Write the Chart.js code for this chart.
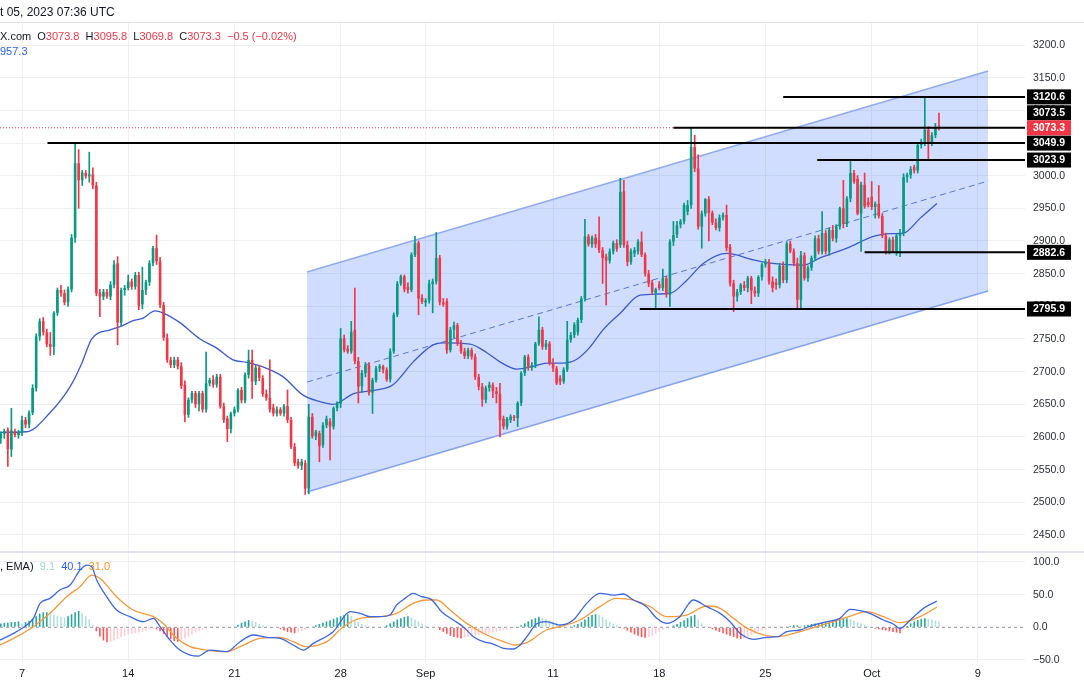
<!DOCTYPE html>
<html>
<head>
<meta charset="utf-8">
<script src="https://cdn.jsdelivr.net/npm/chart.js@4.4.0/dist/chart.umd.min.js"></script>
<style>
  html, body { margin: 0; padding: 0; background: #fff; }
  #wrap { position: relative; width: 1084px; height: 682px; overflow: hidden; font-family: 'Liberation Sans', Arial, sans-serif; }
  #c { position: absolute; left: 0; top: 0; }
  .txt { position: absolute; white-space: pre; font-size: 11px; line-height: 14px; color: #131722; }
  .r { color: #f23645; }
  .hline { position: absolute; left: 0; top: 22px; width: 1084px; height: 1px; background: #e0e3eb; }
</style>
</head>
<body>
<div id="wrap">
  <canvas id="c" width="1084" height="682"></canvas>
  <div class="hline"></div>
  <div class="txt" style="left:0;top:5px;font-size:12px">t 05, 2023 07:36 UTC</div>
  <div class="txt" style="left:0;top:29px">X.com  O<span class="r">3073.8</span>  H<span class="r">3095.8</span>  L<span class="r">3069.8</span>  C<span class="r">3073.3</span>  <span class="r">−0.5 (−0.02%)</span></div>
  <div class="txt" style="left:0;top:44px;color:#2962ff">957.3</div>
  <div class="txt" style="left:0;top:559px">, EMA)  <span style="color:#9fd6d0">9.1</span>  <span style="color:#2962ff">40.1</span>  <span style="color:#f7931e">31.0</span></div>
</div>
<script>
// 4H candles, index 0 = Aug 7 00:00, first bar = index -6
const FIRST_BAR = -6;
const candles = [
  [2598,2608,2590,2605],[2605,2612,2598,2609],[2611,2614,2555,2581],[2581,2644,2570,2610],[2608,2612,2600,2603],[2603,2610,2598,2607],
  [2607,2632,2602,2626],[2626,2630,2614,2619],[2619,2640,2614,2637],[2637,2680,2634,2675],[2675,2758,2670,2754],[2754,2781,2748,2777],
  [2777,2783,2756,2760],[2760,2765,2738,2742],[2742,2760,2725,2738],[2738,2792,2726,2790],[2790,2828,2786,2825],[2825,2832,2815,2820],
  [2820,2825,2802,2806],[2806,2830,2800,2826],[2826,2910,2822,2905],[2905,3049.9,2898,3019],[3019,3040,2950,2993],[2993,3008,2985,3005],
  [3004,3008,2996,2999],[2999,3036,2990,3002],[3002,3012,2980,2985],[2985,2990,2816,2820],[2821,2826,2784,2815],[2815,2826,2810,2822],
  [2822,2826,2812,2815],[2815,2838,2810,2833],[2833,2870,2828,2864],[2866,2876,2741,2775],[2775,2828,2770,2825],[2825,2832,2817,2828],
  [2828,2848,2825,2838],[2838,2842,2826,2830],[2830,2852,2826,2848],[2848,2852,2795,2800],[2803,2860,2796,2825],[2825,2840,2818,2837],
  [2837,2870,2832,2866],[2866,2892,2862,2889],[2889,2909,2864,2869],[2869,2875,2798,2802],[2802,2806,2748,2752],[2752,2758,2714,2718],
  [2718,2722,2706,2710],[2710,2722,2706,2718],[2718,2722,2704,2708],[2708,2714,2674,2678],[2680,2686,2623,2634],[2634,2660,2630,2657],
  [2657,2670,2652,2667],[2667,2670,2645,2650],[2650,2670,2640,2667],[2667,2670,2638,2642],[2642,2730,2638,2682],[2682,2690,2678,2687],
  [2688,2694,2676,2680],[2680,2696,2676,2692],[2692,2696,2644,2647],[2647,2652,2622,2626],[2628,2632,2593,2612],[2612,2638,2606,2636],
  [2636,2646,2632,2642],[2642,2674,2638,2672],[2672,2676,2652,2656],[2656,2698,2652,2695],[2695,2733,2690,2718],[2718,2733,2659,2685],
  [2685,2710,2680,2706],[2706,2710,2686,2690],[2690,2694,2662,2666],[2666,2672,2656,2660],[2660,2718,2638,2642],[2645,2650,2632,2636],
  [2636,2646,2632,2642],[2642,2645,2633,2636],[2636,2650,2632,2647],[2647,2672,2622,2626],[2626,2630,2582,2585],[2585,2590,2556,2560],
  [2562,2566,2552,2556],[2556,2566,2550,2562],[2560,2564,2512,2521],
  [2521,2650,2513,2631],[2631,2636,2598,2601],[2601,2610,2596,2608],[2606,2609,2562,2586],[2588,2622,2584,2618],[2618,2632,2614,2628],
  [2624,2628,2565,2616],[2616,2646,2612,2644],[2644,2654,2640,2651],[2651,2766,2645,2751],[2751,2756,2730,2733],[2735,2740,2728,2731],
  [2731,2777,2728,2761],[2764,2828,2712,2716],[2716,2722,2652,2677],[2678,2702,2668,2698],[2698,2714,2692,2710],[2710,2714,2664,2668],
  [2668,2690,2636,2687],[2687,2708,2684,2705],[2705,2711,2700,2708],[2708,2710,2698,2703],[2703,2706,2685,2688],[2688,2735,2684,2731],
  [2731,2790,2728,2787],[2787,2838,2784,2835],[2835,2848,2832,2846],[2846,2848,2822,2826],[2830,2836,2820,2825],[2825,2882,2822,2879],
  [2879,2907,2876,2897],[2897,2900,2787,2812],[2813,2818,2804,2807],[2806,2812,2800,2809],[2809,2840,2805,2835],[2834,2842,2790,2838],
  [2838,2913,2834,2874],[2874,2878,2802,2806],[2806,2812,2800,2803],[2808,2812,2728,2733],[2733,2768,2730,2764],[2764,2776,2752,2771],
  [2771,2774,2740,2743],[2743,2748,2728,2731],[2731,2736,2720,2724],[2724,2736,2720,2733],[2733,2736,2719,2723],[2723,2727,2688,2692],
  [2692,2696,2672,2677],[2677,2682,2647,2657],[2657,2678,2652,2675],[2675,2684,2670,2680],[2680,2683,2660,2670],[2670,2676,2652,2666],
  [2666,2682,2600,2626],[2628,2632,2612,2616],[2616,2630,2612,2628],[2626,2634,2622,2631],[2631,2633,2625,2629],[2629,2654,2616,2652],
  [2652,2700,2648,2698],[2698,2725,2694,2723],[2723,2726,2702,2706],[2706,2714,2702,2710],[2710,2745,2706,2743],[2743,2784,2740,2764],
  [2764,2768,2734,2738],[2738,2748,2734,2743],[2743,2746,2710,2713],[2713,2720,2700,2705],[2705,2708,2680,2682],[2690,2694,2680,2685],
  [2685,2706,2682,2703],[2703,2777,2700,2749],[2749,2760,2745,2756],[2756,2775,2752,2772],[2760,2782,2756,2779],[2779,2815,2775,2812],
  [2812,2933,2808,2907],[2907,2910,2892,2895],[2895,2908,2890,2905],[2905,2910,2890,2895],[2901,2937,2882,2886],[2886,2890,2835,2874],
  [2876,2880,2802,2870],[2870,2888,2866,2884],[2884,2900,2880,2897],[2897,2902,2884,2888],[2894,2996,2890,2975],
  [2976,2993,2890,2894],[2894,2900,2862,2868],[2868,2888,2864,2884],[2881,2890,2876,2886],[2884,2902,2880,2899],[2899,2914,2876,2879],
  [2879,2882,2846,2850],[2850,2855,2830,2835],[2836,2840,2818,2822],[2820,2828,2795.9,2826],[2834,2838,2825,2828],[2828,2857,2824,2843],
  [2843,2846,2814,2818],[2818,2902,2800,2899],[2899,2930,2893,2909],[2910,2930,2905,2924],[2925,2933,2920,2930],[2930,2958,2926,2955],
  [2945,2962,2940,2955],[2955,3073.5,2950,3044],[3044,3062,3006,3011],[3011,3032,2918,2922],[2922,2946,2889,2942],[2942,2965,2938,2964],
  [2964,2968,2900,2943],[2943,2946,2925,2928],[2928,2934,2917,2920],[2920,2940,2915,2936],[2936,2943,2932,2940],[2940,2955,2885,2889],
  [2891,2895,2831,2835],[2835,2840,2792,2815],[2815,2826,2808,2822],[2822,2835,2818,2833],[2833,2838,2824,2828],[2828,2846,2822,2843],
  [2843,2846,2804,2824],[2824,2830,2815,2820],[2820,2847,2815,2845],[2845,2866,2840,2864],[2864,2872,2860,2868],[2868,2872,2834,2838],
  [2838,2845,2822,2828],[2836,2842,2826,2833],[2833,2866,2828,2862],[2862,2868,2836,2840],[2840,2899,2836,2896],[2896,2900,2882,2884],
  [2884,2888,2862,2866],[2866,2874,2797,2810],[2810,2884,2797,2878],[2878,2882,2840,2843],[2843,2862,2838,2859],[2859,2877,2855,2874],
  [2874,2908,2870,2904],[2904,2909,2880,2884],[2884,2945,2880,2912],[2912,2916,2880,2884],[2884,2920,2878,2917],[2917,2924,2900,2904],
  [2904,2925,2898,2922],[2922,2952,2918,2950],[2950,2993,2920,2926],[2926,2968,2922,2965],[2965,3023.9,2960,3004],[3004,3008,2988,2991],
  [2995,3000,2940,2942],[2942,2990,2884,2986],[2986,3004,2950,2953],[2960,2966,2952,2955],[2968,2991,2948,2952],[2952,2960,2935,2957],
  [2957,2985,2935,2938],[2938,2942,2905,2908],[2908,2912,2880,2884],[2884,2905,2880,2902],[2902,2906,2882.6,2884],[2884,2910,2878,2908],
  [2908,2918,2876,2912],[2912,3003,2908,2998],[2998,3004,2990,3001],[3001,3014,2996,3010],[3013,3016,3004,3008],[3008,3050,3004,3047],
  [3047,3056,3042,3052],[3052,3120.6,3046,3070],[3070,3075,3024,3050],[3050,3066,3046,3062],[3062,3080,3058,3074],[3073.8,3095.8,3069.8,3073.3]
];

const xTicks = [0, 30, 60, 90, 114, 150, 180, 210, 240, 270];
const xTickText = ['7', '14', '21', '28', 'Sep', '11', '18', '25', 'Oct', '9'];

// EMA: [bar index, price]
const emaPts = [
  [-6.2,2607],[1.3,2608],[7.9,2637],[13.6,2677],[16.9,2713],[19.7,2750],[24.9,2764],[27.7,2769],[31.4,2778],
  [34.2,2782],[37.6,2793],[39.8,2790],[44.6,2775],[50.3,2750],[55,2736],[59.6,2718],[63.5,2714],[69.1,2705],
  [73.8,2692],[79.4,2664],[84.2,2654],[87.9,2650],[89.3,2652],[93.5,2666],[100.2,2672],[104.8,2680],[110.5,2715],
  [116.1,2741],[118.9,2744],[126.6,2742],[131.3,2729],[135,2715],[139.7,2704],[144.4,2708],[148.2,2713],[152.8,2713],
  [156.7,2719],[160.5,2738],[164.1,2764],[168.9,2789],[174.6,2817],[183.1,2820],[187.8,2840],[192.5,2866],[199.1,2881],
  [206.6,2871],[211.3,2866],[220.7,2863],[225.4,2874],[233,2889],[240.5,2907],[244.3,2911],[249,2912],[253.7,2935],[258.4,2957.3]
];

// MACD pane
const macdPts = [
  [-6.2,-19.5],[-2.4,-9.3],[1.3,3.5],[3.2,13.7],[5.1,36.7],[7.9,44.3],[10.7,57.1],[13.6,64.7],[16.4,87.7],[18.3,95.3],
  [19.7,92.8],[21.1,72.4],[23.9,46.9],[26.7,26.5],[30.5,16.3],[34.3,8.6],[37.1,13.7],[39,1],[41.8,-19.5],[44.6,-34.8],
  [47.5,-42.4],[49.8,-44],[53.1,-34.8],[57.8,-37.3],[61.6,-22],[65.3,-11.8],[69.1,-15.4],[72.9,-16.9],[76.6,-27.1],[79.5,-34.8],
  [82.3,-24.6],[87.9,-6.7],[92.7,23.9],[95.5,21.4],[98.3,16.3],[101.1,16.3],[103.9,18.8],[105.8,34.1],[108.2,44.3],[110.5,52],
  [112.9,46.9],[115.6,42.8],[118.5,23.9],[121.8,11.2],[124.6,1],[127.5,-14.3],[130.3,-22],[133.1,-25.6],[136,-32.2],[138.8,-33.2],
  [140.7,-27.1],[142.6,-14.3],[145.3,5],[148.1,8.6],[151.9,3.5],[155.7,11.2],[159.5,36.7],[163.2,52],[167,49.4],[169.8,51],
  [172.7,41.8],[176.4,31.6],[179.3,13.7],[182.1,6],[185.8,16.3],[189.6,41.8],[193.4,31.6],[197.2,21.4],[200,8.6],[202.8,-9.2],
  [206.6,-18.4],[210.4,-15.3],[213.6,-14.3],[216,-6.7],[219.8,-4.1],[223.5,3.5],[227.3,8.6],[231,13.7],[233.9,27.5],[236.7,25.5],
  [239.5,21.4],[243.3,11.2],[246.1,5],[248,-1.6],[250.9,11.2],[254.6,29],[258.4,40.1]
];
const signalPts = [
  [-6.2,-27.1],[-2.4,-16.9],[3.2,1],[7.9,21.4],[12.6,46.9],[16.4,62.2],[19.7,80],[22,75],[26.7,46.9],[31.4,26.5],
  [37.1,16.3],[39.9,6],[43.7,-16.9],[47.5,-29.7],[52.2,-34.8],[57.8,-37.3],[61.6,-29.7],[67.2,-16.9],[72.9,-15.4],[76.6,-22],
  [80.4,-29.7],[86.1,-22],[90.8,1],[95.5,13.7],[101.1,16.3],[105.8,21.4],[110.5,36.7],[114.3,41.8],[117.1,41.8],[120.9,26.5],
  [125.6,6],[131.3,-11.8],[136,-22],[139.3,-27.1],[142.6,-23.5],[148.1,-4.1],[151.9,1],[157.6,11.2],[163.2,31.6],[167.8,44.3],
  [172.7,41.8],[177.4,31.6],[182.1,16.3],[187.7,18.8],[193.4,32.6],[197.2,29],[201,13.7],[204.9,-1.6],[209.6,-11.8],[213.6,-14.3],
  [218.8,-8.2],[224.4,1],[229.2,8.6],[234.8,18.8],[238.6,23.9],[243.3,16.3],[248,7.1],[253.6,16.3],[258.4,31]
];
const macdHist = [
  6,7,7,8,8,9,
  6,8,10,13,17,21,23,23,22,19,17,16,15,17,20,23,25,22,17,12,4,
  -6,-14,-20,-23,-22,
  -20,-18,-15,-13,-11,-10,-9,-8,-7,-5,-3,
  -2,-3,-6,-10,-14,-18,-21,-22,-20,
  -17,-14,-11,-8,-6,-4,-2,
  -1,0,1,1,0,-1,0,1,
  4,7,9,11,10,8,5,3,
  1,0,-1,-1,
  -3,-5,-7,-8,-9,-8,-6,-4,
  -2,1,3,5,7,9,11,13,
  15,17,19,20,17,12,8,
  5,3,2,1,0,0,1,3,
  6,9,12,14,16,17,15,12,9,
  6,3,1,0,-1,
  -4,-7,-10,-13,-15,-16,-17,-16,-15,
  -14,-13,-12,-11,-10,-9,-8,-7,-6,-5,-4,-3,-2,
  0,3,6,9,12,14,16,15,13,
  11,9,7,5,3,1,
  1,3,5,8,12,16,19,20,19,16,12,8,5,
  3,1,-2,-5,-8,-11,-13,-15,-16,-15,-13,-10,-7,-4,
  -1,1,3,5,8,11,14,17,19,
  12,6,2,-1,-3,-5,-7,
  -9,-11,-13,-15,-17,-18,-17,-15,
  -12,-10,-7,-5,-3,-1,
  0,0,1,1,
  1,2,3,3,2,3,4,5,6,6,7,8,9,10,11,12,13,14,
  12,10,8,6,4,2,1,
  -2,-3,-4,-5,-6,-7,-8,-9,
  -3,2,6,9,11,13,14,13,12,10,9
];

// drawn levels and channel
const levelPrices = [3120.6, 3073.5, 3049.9, 3023.9, 2882.6, 2795.9];
const levelFrom = [215, 184, 7.2, 224.6, 238, 174.5];
const channelUpper = [[80.5, 2852.5], [272.9, 3160.2]];
const channelLower = [[80.5, 2515.8], [272.9, 2823.4]];
const channelMid = [[80.5, 2684], [272.9, 2991.8]];
const lastClose = 3073.3;

const X_MIN = -6.215, X_MAX = 283.3;
const UP = '#089981', DOWN = '#f23645';
const GRID = '#eef0f4';

Chart.defaults.font.family = "'Liberation Sans', Arial, sans-serif";
Chart.defaults.color = '#131722';

const xy = pts => pts.map(p => ({ x: p[0], y: p[1] }));
const candleColors = candles.map(c => (c[3] >= c[0] ? UP : DOWN));
const histColors = macdHist.map((v, k) => {
  const prev = k > 0 ? macdHist[k - 1] : v;
  if (v >= 0) return v >= prev ? '#26a69a' : '#b2dfdb';
  return v < prev ? '#ff5252' : '#ffcdd2';
});

const datasets = [
  { type: 'line', data: xy(channelUpper), yAxisID: 'y', borderColor: '#93abee', borderWidth: 1.5,
    backgroundColor: 'rgba(41,98,255,0.22)', fill: '+1', pointRadius: 0, order: 20 },
  { type: 'line', data: xy(channelLower), yAxisID: 'y', borderColor: '#93abee', borderWidth: 1.5,
    fill: false, pointRadius: 0, order: 20 },
  { type: 'line', data: xy(channelMid), yAxisID: 'y', borderColor: '#5a76cc', borderWidth: 1,
    borderDash: [6, 4], fill: false, pointRadius: 0, order: 19 },
  { type: 'line', data: xy(emaPts), yAxisID: 'y', borderColor: '#3a5bd0', borderWidth: 1.3,
    cubicInterpolationMode: 'monotone', pointRadius: 0, fill: false, order: 15 },
  { type: 'bar', data: candles.map((c, k) => ({ x: FIRST_BAR + k, y: [c[2], c[1]] })), yAxisID: 'y',
    backgroundColor: candleColors, barThickness: 1, grouped: false, order: 14 },
  { type: 'bar', data: candles.map((c, k) => ({ x: FIRST_BAR + k, y: [c[0], c[3]] })), yAxisID: 'y',
    backgroundColor: candleColors, barPercentage: 0.74, categoryPercentage: 1, minBarLength: 1, grouped: false, order: 13 },
  { type: 'line', data: [{ x: X_MIN, y: lastClose }, { x: X_MAX, y: lastClose }], yAxisID: 'y',
    borderColor: '#f23645', borderWidth: 1, borderDash: [1, 2], pointRadius: 0, fill: false, order: 12 },
  { type: 'bar', data: macdHist.map((v, k) => ({ x: FIRST_BAR + k, y: v })), yAxisID: 'y2',
    backgroundColor: histColors, barPercentage: 0.45, categoryPercentage: 1, grouped: false, order: 11 },
  { type: 'line', data: xy(macdPts), yAxisID: 'y2', borderColor: '#3d66e0', borderWidth: 1.3,
    cubicInterpolationMode: 'monotone', pointRadius: 0, fill: false, order: 9 },
  { type: 'line', data: xy(signalPts), yAxisID: 'y2', borderColor: '#f59a3b', borderWidth: 1.3,
    cubicInterpolationMode: 'monotone', pointRadius: 0, fill: false, order: 10 }
];
levelPrices.forEach((p, k) => {
  datasets.push({ type: 'line', data: [{ x: levelFrom[k], y: p }, { x: X_MAX, y: p }], yAxisID: 'y',
    borderColor: '#000', borderWidth: 2, pointRadius: 0, fill: false, order: 1 });
});

const overlay = {
  id: 'overlay',
  beforeDatasetsDraw(chart) {
    const { ctx, chartArea } = chart;
    const y0 = chart.scales.y2.getPixelForValue(0);
    ctx.save();
    ctx.strokeStyle = '#9598a1';
    ctx.lineWidth = 1;
    ctx.setLineDash([3, 3]);
    ctx.beginPath();
    ctx.moveTo(chartArea.left, y0);
    ctx.lineTo(chartArea.right, y0);
    ctx.stroke();
    ctx.restore();
  },
  afterDraw(chart) {
    const { ctx, chartArea } = chart;
    const y = chart.scales.y;
    // pane separator
    ctx.save();
    ctx.fillStyle = '#e0e3eb';
    ctx.fillRect(0, Math.round(y.bottom) - 1, chart.width, 2);
    // price tags on the axis
    const yCur = y.getPixelForValue(lastClose);
    const tags = levelPrices.map(p => ({ p, bg: '#000', py: y.getPixelForValue(p) }));
    tags.forEach(t => {
      if (Math.abs(t.py - yCur) < 15) t.py = t.p > lastClose ? yCur - 15 : yCur + 15;
    });
    tags.push({ p: lastClose, bg: '#f23645', py: yCur });
    ctx.font = "bold 10.5px 'Liberation Sans', Arial, sans-serif";
    ctx.textAlign = 'center';
    ctx.textBaseline = 'middle';
    tags.forEach(t => {
      ctx.fillStyle = t.bg;
      ctx.fillRect(chartArea.right + 2, t.py - 7.5, 44, 15);
      ctx.fillStyle = '#fff';
      ctx.fillText(t.p.toFixed(1), chartArea.right + 24, t.py + 0.5);
    });
    ctx.restore();
  }
};

// ticks every `step` inside the axis range
const stepTicks = step => s => {
  const out = [];
  for (let v = Math.ceil(s.min / step) * step; v <= s.max; v += step) out.push({ value: v });
  s.ticks = out;
};

new Chart(document.getElementById('c'), {
  type: 'bar',
  data: { datasets },
  options: {
    responsive: false,
    animation: false,
    layout: { padding: { top: 23, left: 0, right: 0, bottom: 0 } },
    plugins: { legend: { display: false }, tooltip: { enabled: false } },
    scales: {
      x: {
        type: 'linear', min: X_MIN, max: X_MAX, offset: false,
        grid: { color: GRID, drawTicks: false, offset: false },
        border: { display: false },
        afterBuildTicks: s => { s.ticks = xTicks.map(v => ({ value: v })); },
        afterFit: s => { s.height = 20; },
        ticks: { padding: 5, autoSkip: false, maxRotation: 0, font: { size: 11 }, color: '#131722',
          callback: v => xTickText[xTicks.indexOf(v)] }
      },
      y: {
        type: 'linear', position: 'right', stack: 'pane', stackWeight: 529,
        min: 2423.9, max: 3233.7,
        grid: { color: GRID, drawTicks: false },
        border: { display: false },
        afterBuildTicks: stepTicks(50),
        afterFit: s => { s.width = 59; },
        ticks: { padding: 8, autoSkip: false, font: { size: 10.5 }, color: '#2a2e39', callback: v => v.toFixed(1) }
      },
      y2: {
        type: 'linear', position: 'right', stack: 'pane', stackWeight: 110,
        min: -53.1, max: 115.3,
        grid: { color: c => (c.tick && c.tick.value === 0 ? 'rgba(0,0,0,0)' : GRID), drawTicks: false },
        border: { display: false },
        afterBuildTicks: stepTicks(50),
        afterFit: s => { s.width = 59; },
        ticks: { padding: 8, autoSkip: false, font: { size: 10.5 }, color: '#2a2e39',
          callback: v => v.toFixed(1).replace('-', '−') }
      }
    }
  },
  plugins: [overlay]
});
</script>
</body>
</html>
